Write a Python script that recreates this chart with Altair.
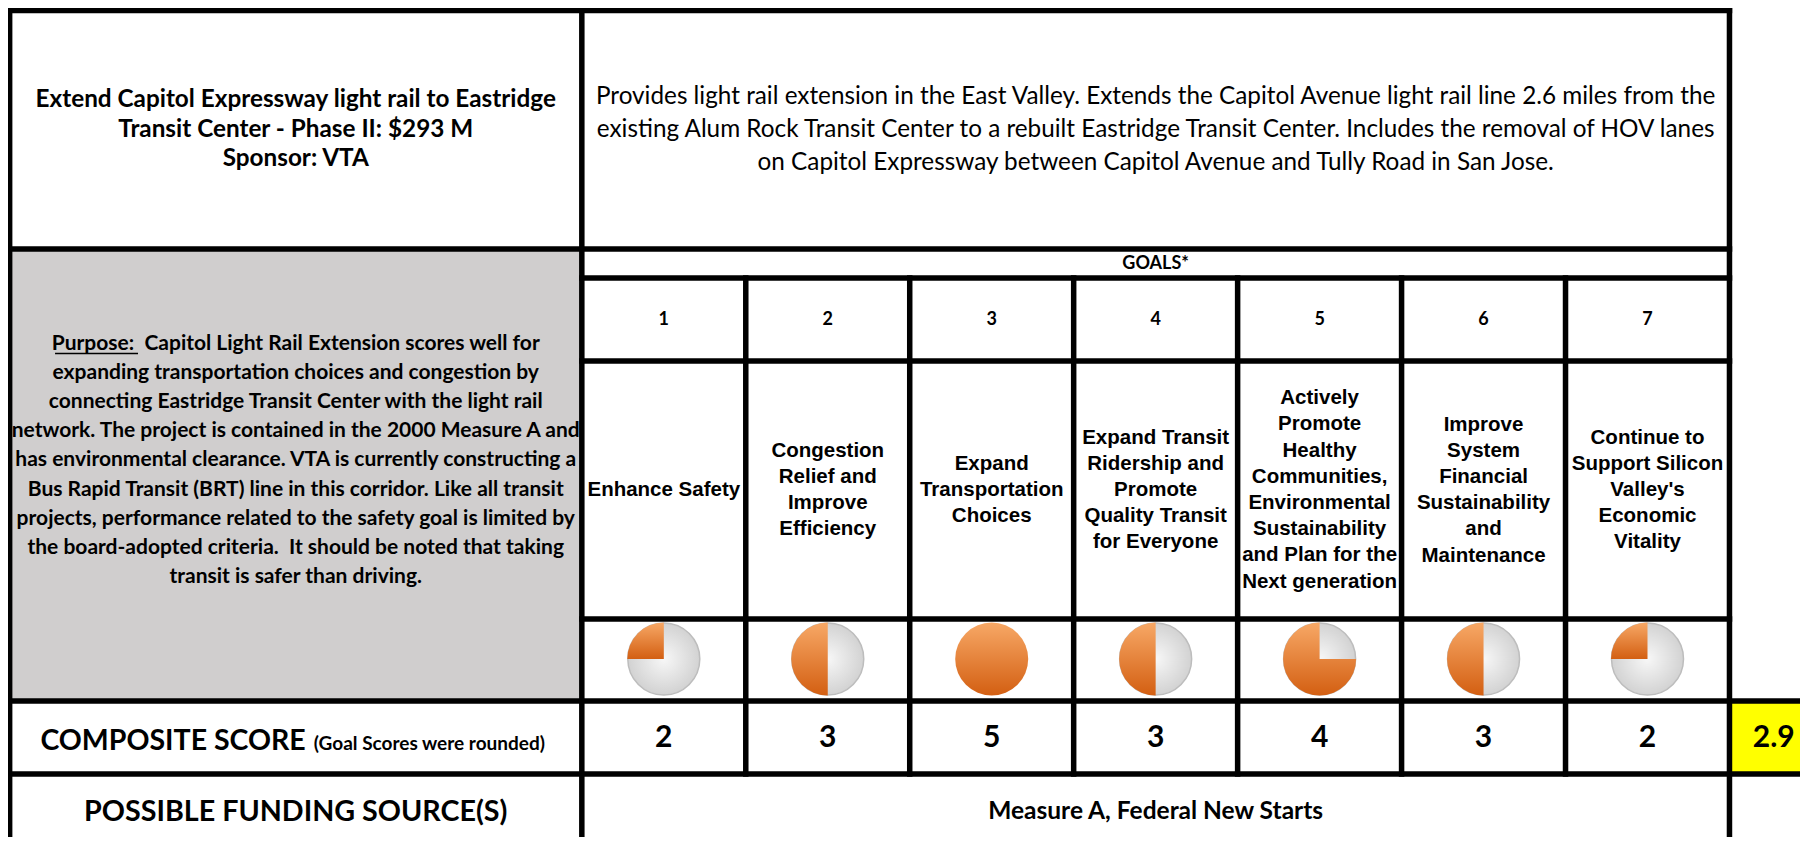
import altair as alt
import pandas as pd

# ---------------- data ----------------
title_lines = [
    "Extend Capitol Expressway light rail to Eastridge",
    "Transit Center - Phase II: $293 M",
    "Sponsor: VTA",
]
description_lines = [
    "Provides light rail extension in the East Valley. Extends the Capitol Avenue light rail line 2.6 miles from the",
    "existing Alum Rock Transit Center to a rebuilt Eastridge Transit Center. Includes the removal of HOV lanes",
    "on Capitol Expressway between Capitol Avenue and Tully Road in San Jose.",
]
purpose_lines = [
    "Purpose:\u00a0 Capitol Light Rail Extension scores well for",
    "expanding transportation choices and congestion by",
    "connecting Eastridge Transit Center with the light rail",
    "network. The project is contained in the 2000 Measure A and",
    "has environmental clearance. VTA is currently constructing a",
    "Bus Rapid Transit (BRT) line in this corridor. Like all transit",
    "projects, performance related to the safety goal is limited by",
    "the board-adopted criteria.\u00a0 It should be noted that taking",
    "transit is safer than driving.",
]
goals_header = "GOALS*"
goal_numbers = [1, 2, 3, 4, 5, 6, 7]
goal_names = [
    "Enhance Safety",
    "Congestion\nRelief and\nImprove\nEfficiency",
    "Expand\nTransportation\nChoices",
    "Expand Transit\nRidership and\nPromote\nQuality Transit\nfor Everyone",
    "Actively\nPromote\nHealthy\nCommunities,\nEnvironmental\nSustainability\nand Plan for the\nNext generation",
    "Improve\nSystem\nFinancial\nSustainability\nand\nMaintenance",
    "Continue to\nSupport Silicon\nValley's\nEconomic\nVitality",
]
goal_scores = [2, 3, 5, 3, 4, 3, 2]
composite_label = "COMPOSITE SCORE"
composite_note = "(Goal Scores were rounded)"
composite_score = 2.9
funding_label = "POSSIBLE FUNDING SOURCE(S)"
funding_sources = "Measure A, Federal New Starts"

# ---------------- layout ----------------
W, H = 1792, 829
COLW = 163.95
XD = [-3.0, -3.0 + W / COLW]
LEFT, MID, RIGHT, EDGE = -2.99, 0.5, 7.5, XD[1]
Y_TOP, Y_R1, Y_R2, Y_R3, Y_R4, Y_R5, Y_R6 = 2.5, 241, 270, 353, 611, 693, 766

xs = alt.Scale(domain=XD, range=[0, W], nice=False, zero=False)
ys = alt.Scale(domain=[0, H], range=[0, H], nice=False, zero=False)
X = lambda f: alt.X(f, type="quantitative", scale=xs, axis=None)
Y = lambda f: alt.Y(f, type="quantitative", scale=ys, axis=None)

LEFT_C = (LEFT + MID) / 2
RIGHT_C = (MID + RIGHT) / 2

# cell fills
fills = pd.DataFrame([
    {"x": LEFT, "x2": MID, "y": Y_R1, "y2": Y_R5, "c": "#D0CECE"},
    {"x": RIGHT, "x2": EDGE, "y": Y_R5, "y2": Y_R6, "c": "#FFFF00"},
])
fill_layer = alt.Chart(fills).mark_rect().encode(
    x=X("x"), x2="x2", y=Y("y"), y2="y2",
    color=alt.Color("c:N", scale=None),
)

# grid lines
segs = []
def hline(y, x1, x2, w=5.5):
    segs.append({"x": x1, "x2": x2, "y": y, "y2": y, "w": w})
def vline(x, y1, y2, w=5.5):
    segs.append({"x": x, "x2": x, "y": y1, "y2": y2, "w": w})

hline(Y_TOP, LEFT, RIGHT)
hline(Y_R1, LEFT, RIGHT)
hline(Y_R2, MID, RIGHT)
hline(Y_R3, MID, RIGHT)
hline(Y_R4, MID, RIGHT)
hline(Y_R5, LEFT, EDGE)
hline(Y_R6, LEFT, EDGE)
vline(LEFT, Y_TOP, H)
vline(MID, Y_TOP, H)
vline(RIGHT, Y_TOP, H)
for g in goal_numbers[:-1]:
    vline(g + 0.5, Y_R2, Y_R6)
grid_layer = alt.Chart(pd.DataFrame(segs)).mark_rule(
    color="black", strokeCap="square"
).encode(x=X("x"), x2="x2", y=Y("y"), y2="y2",
         strokeWidth=alt.StrokeWidth("w:Q", scale=None))

# pies
pies = pd.DataFrame({"goal": goal_numbers, "score": goal_scores})
pies["y"] = (Y_R4 + Y_R5) / 2 - 1
gray_grad = alt.RadialGradient(
    gradient="radial", x1=0.5, y1=0.5, r1=0, x2=0.5, y2=0.5, r2=0.5,
    stops=[alt.GradientStop(color="#F7F7F7", offset=0),
           alt.GradientStop(color="#D2D2D2", offset=1)],
)
orange_grad = alt.LinearGradient(
    gradient="linear", x1=0, y1=0, x2=0, y2=1,
    stops=[alt.GradientStop(color="#F7A866", offset=0),
           alt.GradientStop(color="#D35F12", offset=1)],
)
pie_gray = alt.Chart(pies).transform_filter("datum.score < 5").mark_arc(
    radius=36, theta=0, theta2=6.2832, fill=gray_grad, stroke="#BDBDBD", strokeWidth=1.5
).encode(x=X("goal"), y=Y("y"))
pie_orange = alt.Chart(pies).transform_calculate(
    t0="5 - datum.score", t1="4"
).mark_arc(radius=36.5, fill=orange_grad).encode(
    x=X("goal"), y=Y("y"),
    theta=alt.Theta("t0:Q", scale=alt.Scale(domain=[0, 4], range=[0, 6.2832]), stack=None),
    theta2="t1:Q",
)

# texts (multi-line blocks are centred on their cell)
def text_layer(rows, lineHeight=None, **kw):
    base = dict(font="Lato", lineBreak="\n", align="center", baseline="middle", color="black")
    base.update(kw)
    if lineHeight is not None:
        base["lineHeight"] = lineHeight
        for r in rows:
            n = r["t"].count("\n")
            r["y"] = r["y"] - n * lineHeight / 2
    return alt.Chart(pd.DataFrame(rows)).mark_text(**base).encode(
        x=X("x"), y=Y("y"), text="t:N"
    )

t_title = text_layer([{"x": LEFT_C, "y": (Y_TOP + Y_R1) / 2, "t": "\n".join(title_lines)}],
                     lineHeight=29.5, fontSize=24.3, fontWeight="bold")
t_desc = text_layer([{"x": RIGHT_C, "y": (Y_TOP + Y_R1) / 2, "t": "\n".join(description_lines)}],
                    lineHeight=33, fontSize=24.3)
t_purpose = text_layer([{"x": LEFT_C, "y": 452.5, "t": "\n".join(purpose_lines)}],
                       lineHeight=29.1, fontSize=21, fontWeight="bold")
t_goals = text_layer([{"x": RIGHT_C, "y": (Y_R1 + Y_R2) / 2, "t": goals_header}],
                     fontSize=18, fontWeight="bold")
t_nums = text_layer([{"x": g, "y": (Y_R2 + Y_R3) / 2, "t": str(g)} for g in goal_numbers],
                    fontSize=18, fontWeight="bold")
t_names = text_layer([{"x": g, "y": (Y_R3 + Y_R4) / 2, "t": n} for g, n in zip(goal_numbers, goal_names)],
                     lineHeight=26.2, font="Liberation Sans", fontSize=20.5, fontWeight="bold")
t_scores = text_layer([{"x": g, "y": (Y_R5 + Y_R6) / 2, "t": str(s)} for g, s in zip(goal_numbers, goal_scores)],
                      fontSize=30, fontWeight="bold")
t_comp = text_layer([{"x": RIGHT + 0.27, "y": (Y_R5 + Y_R6) / 2, "t": f"{composite_score:.1f}"}],
                    fontSize=30, fontWeight="bold")
t_clabel = text_layer([{"x": -1.184, "y": 742, "t": composite_label}],
                      fontSize=28.5, fontWeight="bold", align="right", baseline="alphabetic")
t_cnote = text_layer([{"x": -1.135, "y": 742, "t": composite_note}],
                     fontSize=19, fontWeight="bold", align="left", baseline="alphabetic")
t_flabel = text_layer([{"x": LEFT_C, "y": 804, "t": funding_label}], fontSize=28.7, fontWeight="bold")
t_fsrc = text_layer([{"x": RIGHT_C, "y": 804, "t": funding_sources}], fontSize=24.5, fontWeight="bold")

# underline of "Purpose:"
underline = alt.Chart(pd.DataFrame([{"x": -2.713, "x2": -2.207, "y": 345.5}])).mark_rule(
    color="black", strokeWidth=1.6
).encode(x=X("x"), x2="x2", y=Y("y"))

chart = alt.layer(
    fill_layer, pie_gray, pie_orange,
    t_title, t_desc, t_purpose, underline, t_goals, t_nums, t_names, t_scores, t_comp,
    t_clabel, t_cnote, t_flabel, t_fsrc,
    grid_layer,
).properties(
    width=W, height=H, padding=0, autosize=alt.AutoSizeParams(type="none"),
    background="white",
).configure_view(stroke=None)

chart.save("out.html", embed_options={"renderer": "svg", "actions": False})
